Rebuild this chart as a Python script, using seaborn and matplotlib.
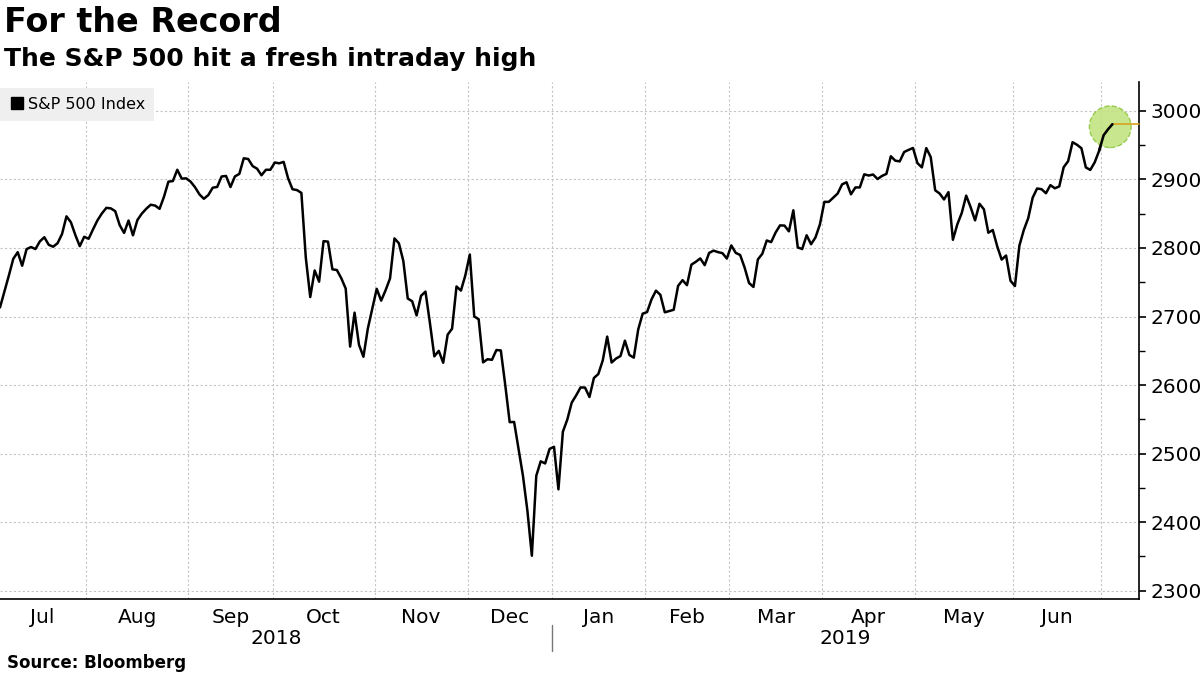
import numpy as np
import pandas as pd
import seaborn as sns
import matplotlib.pyplot as plt
from matplotlib.lines import Line2D
from matplotlib.transforms import blended_transform_factory

# exchange holidays inside the window (trading-day axis, like the terminal chart)
holidays = ['2018-07-04', '2018-09-03', '2018-11-22', '2018-12-05', '2018-12-25',
            '2019-01-01', '2019-01-21', '2019-02-18', '2019-04-19', '2019-05-27']

# S&P 500 Index, daily
jul18 = [2713.2, 2736.6, 2759.8, 2784.2, 2793.8, 2774.0, 2798.3, 2801.3, 2798.4, 2809.6,
         2815.6, 2804.5, 2801.8, 2807.0, 2820.4, 2846.1, 2837.4, 2818.8, 2802.6, 2816.3]
aug18 = [2813.4, 2827.2, 2840.4, 2850.4, 2858.5, 2857.7, 2853.6, 2833.3, 2821.9, 2840.0,
         2818.4, 2840.7, 2850.1, 2857.1, 2863.0, 2861.8, 2857.0, 2874.7, 2896.7, 2897.5,
         2914.0, 2901.1, 2901.5]
sep18 = [2896.7, 2888.6, 2878.1, 2871.7, 2877.1, 2887.9, 2888.9, 2904.2, 2905.0, 2888.8,
         2904.3, 2908.0, 2930.8, 2929.7, 2919.4, 2915.6, 2906.0, 2914.0, 2914.0]
oct18 = [2924.6, 2923.4, 2925.5, 2901.6, 2885.6, 2884.4, 2880.3, 2785.7, 2728.4, 2767.1,
         2750.8, 2809.9, 2809.2, 2768.8, 2767.8, 2755.9, 2740.7, 2656.1, 2705.6, 2658.7,
         2641.3, 2682.6, 2711.7]
nov18 = [2740.4, 2723.1, 2738.3, 2755.5, 2813.9, 2806.8, 2781.0, 2726.2, 2722.2, 2701.6,
         2730.2, 2736.3, 2690.7, 2641.9, 2649.9, 2632.6, 2673.5, 2682.2, 2743.8, 2737.8,
         2760.2]
dec18 = [2790.4, 2700.1, 2696.0, 2633.1, 2637.7, 2636.8, 2651.1, 2650.5, 2600.0, 2545.9,
         2546.2, 2507.0, 2467.4, 2416.6, 2351.1, 2467.7, 2488.8, 2485.7, 2506.9]
jan19 = [2510.0, 2447.9, 2531.9, 2549.7, 2574.4, 2585.0, 2596.6, 2596.3, 2582.6, 2610.3,
         2616.1, 2636.0, 2670.7, 2632.9, 2638.7, 2642.3, 2664.8, 2643.9, 2640.0, 2681.1,
         2704.1]
feb19 = [2706.5, 2724.9, 2737.7, 2731.6, 2706.1, 2707.9, 2709.8, 2744.7, 2753.0, 2745.7,
         2775.6, 2779.8, 2784.7, 2774.9, 2792.7, 2796.1, 2793.9, 2792.4, 2784.5]
mar19 = [2803.7, 2792.8, 2789.7, 2771.5, 2748.9, 2743.1, 2783.3, 2791.5, 2810.9, 2808.5,
         2822.5, 2832.9, 2832.6, 2824.2, 2854.9, 2800.7, 2798.4, 2818.5, 2805.4, 2815.4,
         2834.4]
apr19 = [2867.2, 2867.2, 2873.4, 2879.4, 2892.7, 2895.8, 2878.2, 2888.2, 2888.3, 2907.4,
         2905.6, 2907.1, 2900.5, 2905.0, 2908.0, 2933.7, 2927.3, 2926.2, 2939.9, 2943.0,
         2945.8]
may19 = [2923.7, 2917.5, 2945.6, 2932.5, 2884.1, 2879.4, 2870.7, 2881.4, 2811.9, 2834.4,
         2851.0, 2876.3, 2859.5, 2840.2, 2864.4, 2856.3, 2822.2, 2826.1, 2802.4, 2783.0,
         2788.9, 2752.1]
jun19 = [2744.5, 2803.3, 2826.2, 2843.5, 2873.3, 2886.7, 2885.7, 2879.8, 2891.6, 2887.0,
         2889.7, 2917.8, 2926.5, 2954.2, 2950.5, 2945.4, 2917.4, 2913.8, 2924.9, 2941.8]
jul19 = [2964.3, 2973.0, 2980.5]

month_labels = ['Jul', 'Aug', 'Sep', 'Oct', 'Nov', 'Dec',
                'Jan', 'Feb', 'Mar', 'Apr', 'May', 'Jun']
year_labels = ['2018', '2019']
y_ticks = list(range(2300, 3001, 100))

dates = pd.bdate_range('2018-07-03', '2019-07-03')
dates = dates[~dates.isin(pd.to_datetime(holidays))]
values = (jul18 + aug18 + sep18 + oct18 + nov18 + dec18 +
          jan19 + feb19 + mar19 + apr19 + may19 + jun19 + jul19)

df = pd.DataFrame({'date': dates, 'close': values})
df['idx'] = np.arange(len(df))
df['month'] = df['date'].dt.to_period('M')

grp = df.groupby('month')['idx']
month_first = grp.min()
month_last = grp.max()
boundaries = (month_first.values[1:] - 0.5)
centers = ((month_first + month_last) / 2).values[:12]

sns.set_style('white')
plt.rcParams['font.family'] = ['DejaVu Sans']
plt.rcParams['text.color'] = 'black'
plt.rcParams['xtick.color'] = 'black'
plt.rcParams['ytick.color'] = 'black'

fig = plt.figure(figsize=(12, 6.75), dpi=100)
ax = fig.add_axes([0, 0.1121, 0.9492, 0.7664])

sns.lineplot(data=df, x='idx', y='close', ax=ax, color='black', linewidth=1.8)

x_max = 257.0
ax.set_xlim(0, x_max)
ax.set_ylim(2287.5, 3042)

# highlight + last-price line
last = df.iloc[-1]
ax.scatter(df['idx'].iloc[-2:].mean(), df['close'].iloc[-2:].mean(), s=900,
           facecolor='#bfe27a', edgecolor='#8cc43c', linewidths=1.0,
           linestyles='--', alpha=0.85, zorder=4)
ax.plot([last['idx'], x_max], [last['close'], last['close']],
        color='#d9a21b', linewidth=1.2, clip_on=False, zorder=5)
ax.plot(df['idx'].iloc[-4:], df['close'].iloc[-4:], color='black', lw=1.8, zorder=6)

# axes
ax.yaxis.tick_right()
ax.set_yticks(y_ticks)
ax.set_yticks(range(2350, 3000, 100), minor=True)
ax.set_xticks(boundaries)
ax.set_xticklabels([])
ax.set_xticks(centers, month_labels, minor=True)
ax.tick_params(axis='x', which='major', length=5, width=1, direction='out')
ax.tick_params(axis='x', which='minor', length=0, pad=6, labelsize=14.5)
ax.tick_params(axis='y', which='major', length=5, width=1.2, direction='out',
               labelsize=14.5, pad=3)
ax.tick_params(axis='y', which='minor', length=4, width=1, direction='out')
ax.set_xlabel('')
ax.set_ylabel('')

ax.grid(True, which='major', color='#c4c4c4', linestyle=(0, (2, 2)), linewidth=0.8)
for side in ['top', 'left']:
    ax.spines[side].set_visible(False)
for side in ['bottom', 'right']:
    ax.spines[side].set_color('black')
    ax.spines[side].set_linewidth(1.2)

# year row
trans = blended_transform_factory(ax.transData, ax.transAxes)
jan_edge = month_first.values[6] - 0.5
ax.text(jan_edge / 2, -0.075, year_labels[0], transform=trans,
        ha='center', va='center', fontsize=14.5)
ax.text((jan_edge + x_max) / 2, -0.075, year_labels[1], transform=trans,
        ha='center', va='center', fontsize=14.5)
ax.plot([jan_edge, jan_edge], [-0.05, -0.10], transform=trans, color='#777777',
        linewidth=1, clip_on=False)

# legend
handle = Line2D([], [], marker='s', color='black', linestyle='none', markersize=9)
ax.legend([handle], ['S&P 500 Index'], loc='upper left', bbox_to_anchor=(0, 0.988),
          frameon=True, facecolor='#efefef', edgecolor='none', fancybox=False,
          framealpha=1, fontsize=11.5, handletextpad=0.2, borderpad=0.55,
          borderaxespad=0, handlelength=1.0)

fig.text(0.003, 1 - 23 / 675, 'For the Record', fontsize=24, weight='bold', va='center')
fig.text(0.003, 1 - 59 / 675, 'The S&P 500 hit a fresh intraday high',
         fontsize=18, weight='bold', va='center')
fig.text(0.006, 1 - 663 / 675, 'Source: Bloomberg', fontsize=12, weight='bold', va='center')

fig.savefig('out.png', dpi=100)
